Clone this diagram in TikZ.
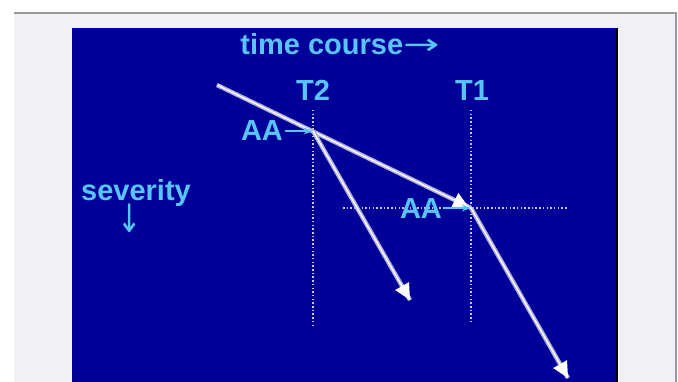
\documentclass[tikz,border=0pt]{standalone}
\usepackage{graphicx}
\usepackage{fontspec}
\setmainfont{Liberation Sans}
\newfontfamily\arrowfont{DejaVu Sans}
\usetikzlibrary{arrows.meta, calc}
\begin{document}
\begin{tikzpicture}[x=1pt, y=-1pt, >=Stealth, font=\fontsize{29}{31}\selectfont\bfseries]
	\definecolor{slideblue}{RGB}{0, 0, 153}
	\definecolor{labelblue}{RGB}{88, 196, 250}
	\definecolor{lineshade}{RGB}{175, 175, 220}
	\definecolor{pagegray}{RGB}{240, 241, 247}
	\tikzset{
		label text/.style={text=labelblue, inner sep=0pt, anchor=base},
		guide/.style={lineshade!70!white, line width=1.5pt, dash pattern=on 1.5pt off 2.2pt},
		course/.style={line width=4.4pt, lineshade},
		course core/.style={line width=1.3pt, white},
		pointer/.style={->, labelblue, line width=1.4pt}
	}
	\useasboundingbox (0,0) rectangle (678,382);
	% page and slide
	\fill[white] (0,0) rectangle (678,382);
	\fill[pagegray] (14,14) rectangle (676,382);
	\draw[gray!80, line width=1.5pt] (14,13) -- (676,13) -- (676,382);
	\fill[black] (72,28) rectangle (618,382);
	\fill[slideblue] (72,28) rectangle (616,382);
	% titles
	\node[label text] (title) at (340,55) {time course{\arrowfont\mdseries\scalebox{1.5}[1]{→}}};
	\node[label text] (sevr) at (136,201) {severity};
	\node[label text] (sevarrow) at (130,233) {\arrowfont\mdseries\scalebox{1}[1.35]{↓}};
	\node[label text] (t2) at (313,101) {T2};
	\node[label text] (t1) at (472,101) {T1};
	% key points
	\coordinate (start) at (217,85);
	\coordinate (aa2pt) at (313,131);
	\coordinate (aa1pt) at (471,208);
	\coordinate (end2) at (410,300);
	\coordinate (end1) at (568,378);
	% dotted guides
	\draw[guide] (313,110) -- (313,328);
	\draw[guide] (471,110) -- (471,323);
	\draw[guide] (343,208) -- (568,208);
	% course lines
	\foreach \a/\b in {start/aa1pt, aa2pt/end2, aa1pt/end1} {
		\draw[course] (\a) -- (\b);
		\draw[course core] (\a) -- (\b);
	}
	\fill[white] ($(aa1pt)+(206:3)$) -- ++(206:15) -- ++(116:8) -- cycle;
	\fill[white] ($(aa1pt)+(206:3)$) -- ++(206:15) -- ++(-64:8) -- cycle;
	\foreach \e in {end2, end1} {
		\fill[white] (\e) -- ++(240.3:16) -- ++(150.3:8) -- cycle;
		\fill[white] (\e) -- ++(240.3:16) -- ++(-29.7:8) -- cycle;
	}
	% AA labels
	\node[label text] (aa2) at (262,141) {AA};
	\node[label text] (aa1) at (421,219) {AA};
	\draw[pointer] (aa2.east |- aa2pt) ++(2,0) -- (aa2pt);
	\draw[pointer] (aa1.east |- aa1pt) ++(2,0) -- (aa1pt);
\end{tikzpicture}
\end{document}
